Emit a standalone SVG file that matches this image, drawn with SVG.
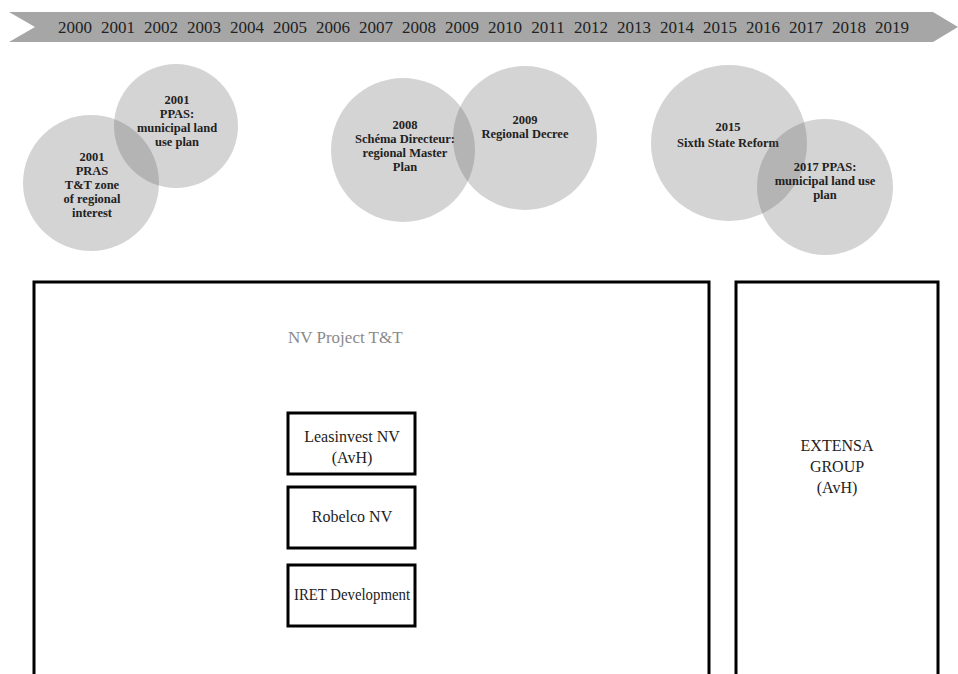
<svg xmlns="http://www.w3.org/2000/svg" width="958" height="674" viewBox="0 0 958 674" font-family="'Liberation Serif', serif">
<style>
text{font-family:'Liberation Serif',serif}
.yr{font-size:17px;fill:#222;text-anchor:middle}
.ct{font-size:12.5px;font-weight:bold;fill:#222;text-anchor:middle}
.circ{fill:#575757;fill-opacity:0.26}
.box{fill:none;stroke:#000;stroke-width:3}
.bt{font-size:16px;fill:#222;text-anchor:middle}
.nv{font-size:17px;fill:#8a8a8a}
</style>
<rect width="958" height="674" fill="#fff"/>
<g id="timeline">
<polygon points="9,12 933,12 958,27 933,42 9,42 35,27" fill="#a6a6a6"/>
<text class="yr" x="75" y="33">2000</text>
<text class="yr" x="118" y="33">2001</text>
<text class="yr" x="161" y="33">2002</text>
<text class="yr" x="204" y="33">2003</text>
<text class="yr" x="247" y="33">2004</text>
<text class="yr" x="290" y="33">2005</text>
<text class="yr" x="333" y="33">2006</text>
<text class="yr" x="376" y="33">2007</text>
<text class="yr" x="419" y="33">2008</text>
<text class="yr" x="462" y="33">2009</text>
<text class="yr" x="505" y="33">2010</text>
<text class="yr" x="548" y="33">2011</text>
<text class="yr" x="591" y="33">2012</text>
<text class="yr" x="634" y="33">2013</text>
<text class="yr" x="677" y="33">2014</text>
<text class="yr" x="720" y="33">2015</text>
<text class="yr" x="763" y="33">2016</text>
<text class="yr" x="806" y="33">2017</text>
<text class="yr" x="849" y="33">2018</text>
<text class="yr" x="892" y="33">2019</text>
</g>
<g id="event-2001-pras">
<circle class="circ" cx="91" cy="183" r="68"/>
<text class="ct" x="92" y="161">2001</text>
<text class="ct" x="92" y="175">PRAS</text>
<text class="ct" x="92" y="189">T&amp;T zone</text>
<text class="ct" x="92" y="203">of regional</text>
<text class="ct" x="92" y="217">interest</text>
</g>
<g id="event-2001-ppas">
<circle class="circ" cx="176" cy="126" r="62"/>
<text class="ct" x="177" y="104">2001</text>
<text class="ct" x="177" y="118">PPAS:</text>
<text class="ct" x="177" y="132">municipal land</text>
<text class="ct" x="177" y="146">use plan</text>
</g>
<g id="event-2008">
<circle class="circ" cx="403" cy="150" r="72"/>
<text class="ct" x="405" y="129">2008</text>
<text class="ct" x="405" y="143">Schéma Directeur:</text>
<text class="ct" x="405" y="157">regional Master</text>
<text class="ct" x="405" y="171">Plan</text>
</g>
<g id="event-2009">
<circle class="circ" cx="525" cy="138" r="72"/>
<text class="ct" x="525" y="124">2009</text>
<text class="ct" x="525" y="138">Regional Decree</text>
</g>
<g id="event-2015">
<circle class="circ" cx="729" cy="143" r="78"/>
<text class="ct" x="728" y="131">2015</text>
<text class="ct" x="728" y="147">Sixth State Reform</text>
</g>
<g id="event-2017">
<circle class="circ" cx="825" cy="187" r="68"/>
<text class="ct" x="825" y="171">2017 PPAS:</text>
<text class="ct" x="825" y="185">municipal land use</text>
<text class="ct" x="825" y="199">plan</text>
</g>
<g id="nv-project">
<rect class="box" x="34" y="282" width="675" height="400"/>
<text class="nv" x="288" y="343">NV Project T&amp;T</text>
</g>
<g id="leasinvest">
<rect class="box" x="288" y="413" width="127" height="61"/>
<text class="bt" x="352" y="442">Leasinvest NV</text>
<text class="bt" x="352" y="463">(AvH)</text>
</g>
<g id="robelco">
<rect class="box" x="288" y="487" width="127" height="61"/>
<text class="bt" x="352" y="522">Robelco NV</text>
</g>
<g id="iret">
<rect class="box" x="288" y="565" width="127" height="61"/>
<text class="bt" x="352" y="600" textLength="116" lengthAdjust="spacingAndGlyphs">IRET Development</text>
</g>
<g id="extensa">
<rect class="box" x="736" y="282" width="202" height="400"/>
<text class="bt" x="837" y="451">EXTENSA</text>
<text class="bt" x="837" y="472">GROUP</text>
<text class="bt" x="837" y="493">(AvH)</text>
</g>
<g id="connectors"></g>
</svg>
